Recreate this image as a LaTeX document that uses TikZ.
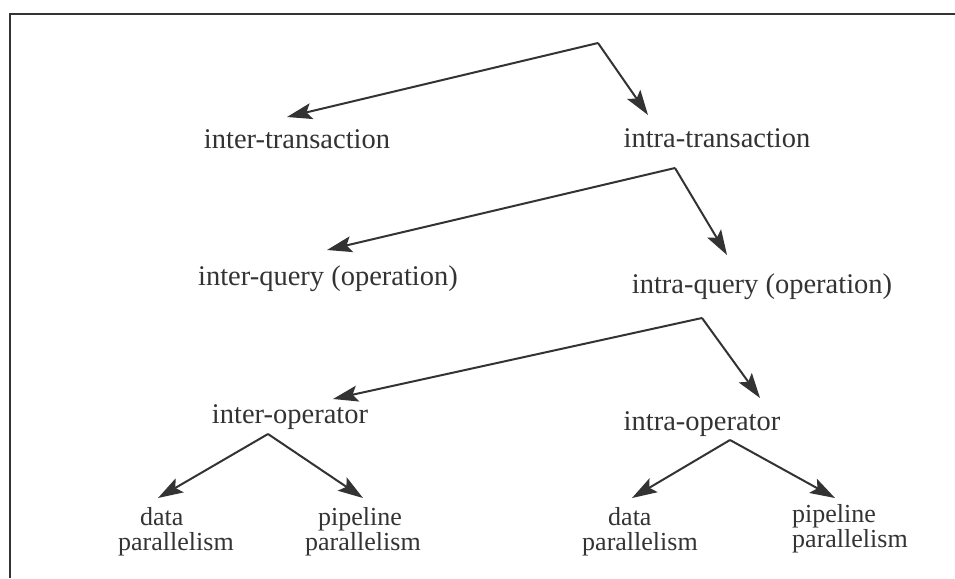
\documentclass[tikz,border=0pt]{standalone}
\usepackage{fontspec}
\setmainfont{Liberation Serif}
\usetikzlibrary{arrows.meta}
\definecolor{ink}{HTML}{333333}
\begin{document}
\begin{tikzpicture}[x=1pt,y=-1pt,
  lbl/.style={inner sep=0pt, anchor=base, text=ink, font=\fontsize{28.5}{21}\selectfont},
  plbl/.style={inner sep=0pt, anchor=base west, align=left, text=ink, font=\fontsize{26}{24.5}\selectfont},
  conn/.style={draw=ink, line width=2pt, -{Stealth[length=25pt,width=16pt,inset=5pt]}},
  frameline/.style={draw=ink, line width=2.5pt}]
\useasboundingbox (0,0) rectangle (955,578);
\fill[white] (0,0) rectangle (955,578);
% frame
\coordinate (fTR) at (955,14);
\coordinate (fTL) at (10,14);
\coordinate (fBL) at (10,578);
\draw[frameline] (fTR) -- (fTL) -- (fBL);
% labels
\node[lbl] (intert) at (297,148) {inter-transaction};
\node[lbl] (intrat) at (717,147) {intra-transaction};
\node[lbl] (interq) at (328,285) {inter-query (operation)};
\node[lbl] (intraq) at (762,293) {intra-query (operation)};
\node[lbl] (intero) at (290,423) {inter-operator};
\node[lbl] (intrao) at (702,430) {intra-operator};
\node[plbl] (dp1) at (118,550) {\hspace*{22pt}data\\parallelism};
\node[plbl] (pp1) at (305,550) {\hspace*{13pt}pipeline\\parallelism};
\node[plbl] (dp2) at (582,550) {\hspace*{26pt}data\\parallelism};
\node[plbl] (pp2) at (792,547) {pipeline\\parallelism};
% branch points
\coordinate (a1) at (598,43);
\coordinate (a2) at (675,168);
\coordinate (a3) at (702,318);
\coordinate (a4) at (268,434);
\coordinate (a5) at (730,440);
% arrow tips
\coordinate (t1l) at (287,117);
\coordinate (t1r) at (648,115);
\coordinate (t2l) at (327,250);
\coordinate (t2r) at (727,255);
\coordinate (t3l) at (333,399);
\coordinate (t3r) at (760,398);
\coordinate (t4l) at (158,498);
\coordinate (t4r) at (363,498);
\coordinate (t5l) at (632,498);
\coordinate (t5r) at (835,498);
% connectors
\draw[conn] (a1) -- (t1l);
\draw[conn] (a1) -- (t1r);
\draw[conn] (a2) -- (t2l);
\draw[conn] (a2) -- (t2r);
\draw[conn] (a3) -- (t3l);
\draw[conn] (a3) -- (t3r);
\draw[conn] (a4) -- (t4l);
\draw[conn] (a4) -- (t4r);
\draw[conn] (a5) -- (t5l);
\draw[conn] (a5) -- (t5r);
\end{tikzpicture}
\end{document}
